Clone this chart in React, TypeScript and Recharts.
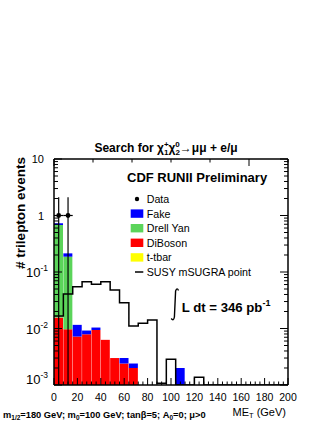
import React from "react";
import { ComposedChart, Bar, Line, Scatter, ErrorBar, XAxis, YAxis } from "recharts";

const W = 327;
const H = 423;
const LEFT = 54;
const RIGHT = 288;
const TOP = 159;
const BOTTOM = 385;
const Y_MIN = 0.001;
const Y_MAX = 10;
const FONT = "'Liberation Sans', Arial, Helvetica, sans-serif";

// MET bins, 8 GeV wide
const binEdges = [0, 8, 16, 24, 32, 40, 48, 56, 64, 72, 80, 88, 96, 104, 112, 120, 128, 136, 144, 152, 160, 168, 176, 184, 192, 200];

// stacked backgrounds, bottom to top
const diboson = [0.0156, 0.0097, 0.0072, 0.0079, 0.0094, 0.0063, 0.003, 0.0024, 0.002, 0, 0, 0, 0, 0, 0, 0, 0, 0, 0, 0, 0, 0, 0, 0, 0];
const drellYan = [0.663, 0.177, 0, 0, 0, 0, 0, 0, 0, 0, 0, 0, 0, 0, 0, 0, 0, 0, 0, 0, 0, 0, 0, 0, 0];
const fake = [0.05, 0.027, 0.0044, 0.0013, 0.001, 0, 0, 0.0006, 0.0004, 0, 0, 0, 0, 0.002, 0, 0, 0, 0, 0, 0, 0, 0, 0, 0, 0];
const ttbar = [0, 0, 0, 0, 0, 0, 0, 0, 0, 0, 0, 0, 0, 0, 0, 0, 0, 0, 0, 0, 0, 0, 0, 0, 0];

// signal, outline only
const susy = [0.0166, 0.041, 0.055, 0.067, 0.061, 0.067, 0.048, 0.0286, 0.0111, 0.0124, 0.0141, 0.00107, 0.00285, 0, 0, 0.00137, 0, 0, 0, 0, 0, 0, 0, 0, 0];

// observed events
const dataCounts = [1, 1, 0, 0, 0, 0, 0, 0, 0, 0, 0, 0, 0, 0, 0, 0, 0, 0, 0, 0, 0, 0, 0, 0, 0];
const dataErrLow = [1, 1];
const dataErrHigh = [1.1, 1.1];

const xMajor = [0, 20, 40, 60, 80, 100, 120, 140, 160, 180, 200];
const yMajor = [0.001, 0.01, 0.1, 1, 10];
const yLabels = [
  { base: "10", exp: "-3" },
  { base: "10", exp: "-2" },
  { base: "10", exp: "-1" },
  { base: "1", exp: "" },
  { base: "10", exp: "" },
];

const xTicks: number[] = [];
for (let v = 0; v <= 200; v += 4) xTicks.push(v);
const yTicks: number[] = [];
yMajor.forEach((d, i) => {
  yTicks.push(d);
  if (i < yMajor.length - 1) for (let m = 2; m <= 9; m++) yTicks.push(+(d * m).toPrecision(3));
});

const bins = binEdges.slice(0, -1).map((lo, i) => ({
  bin: lo,
  diboson: diboson[i],
  drellYan: drellYan[i],
  fake: fake[i],
  ttbar: ttbar[i],
}));

const susyLine = binEdges.map((lo, i) => ({
  x: lo,
  susy: Math.max(susy[Math.min(i, susy.length - 1)], Y_MIN),
}));

const dataPoints = dataCounts
  .map((n, i) => ({ n, i }))
  .filter((d) => d.n > 0)
  .map((d, k) => ({
    x: (binEdges[d.i] + binEdges[d.i + 1]) / 2,
    y: d.n,
    yErr: [Math.min(dataErrLow[k], d.n - Y_MIN), dataErrHigh[k]],
    xErr: (binEdges[d.i + 1] - binEdges[d.i]) / 2,
  }));

const XTickBottom = (props: any) => {
  const v = props.payload.value;
  const cx = props.payload.coordinate;
  const major = xMajor.includes(v);
  return (
    <g>
      <line x1={cx} x2={cx} y1={BOTTOM} y2={BOTTOM - (major ? 7 : 3.5)} stroke="#000" strokeWidth={1} />
      {major && (
        <text x={cx} y={401} textAnchor="middle" fontSize={10.5} fontFamily={FONT} fill="#000">
          {v}
        </text>
      )}
    </g>
  );
};

const XTickTop = (props: any) => {
  const v = props.payload.value;
  const cx = props.payload.coordinate;
  const major = xMajor.includes(v);
  return <line x1={cx} x2={cx} y1={TOP} y2={TOP + (major ? 7 : 3.5)} stroke="#000" strokeWidth={1} />;
};

const YTickLeft = (props: any) => {
  const v = props.payload.value;
  const cy = props.payload.coordinate;
  const idx = yMajor.indexOf(v);
  const major = idx >= 0;
  const lab = major ? yLabels[idx] : null;
  return (
    <g>
      <line x1={LEFT} x2={LEFT + (major ? 8 : 4)} y1={cy} y2={cy} stroke="#000" strokeWidth={1} />
      {lab && lab.exp === "" && (
        <text x={44} y={cy + 4} textAnchor="end" fontSize={11} fontFamily={FONT} fill="#000">
          {lab.base}
        </text>
      )}
      {lab && lab.exp !== "" && (
        <text x={48} y={cy + (idx === 0 ? -1 : 5)} textAnchor="end" fontSize={13} fontFamily={FONT} fill="#000">
          {lab.base}
          <tspan fontSize={8.5} dy={-6}>
            {lab.exp}
          </tspan>
        </text>
      )}
    </g>
  );
};

const YTickRight = (props: any) => {
  const v = props.payload.value;
  const cy = props.payload.coordinate;
  const major = yMajor.indexOf(v) >= 0;
  return <line x1={RIGHT} x2={RIGHT - (major ? 8 : 4)} y1={cy} y2={cy} stroke="#000" strokeWidth={1} />;
};

const DataDot = (props: any) => <circle cx={props.cx} cy={props.cy} r={2.4} fill="#000" />;

const legendRows = [
  { label: "Data", kind: "dot", color: "#000" },
  { label: "Fake", kind: "box", color: "#0000ff" },
  { label: "Drell Yan", kind: "box", color: "#5bd45a" },
  { label: "DiBoson", kind: "box", color: "#ff0000" },
  { label: "t-tbar", kind: "box", color: "#ffff00" },
  { label: "SUSY mSUGRA point", kind: "line", color: "#000" },
];

function Overlay() {
  return (
    <svg width={W} height={H} style={{ position: "absolute", left: 0, top: 0, pointerEvents: "none" }}>
      <text x={166} y={152} textAnchor="middle" fontSize={12} fontWeight="bold" fontFamily={FONT}>
        Search for χ
        <tspan fontSize={8} dy={-5}>+</tspan>
        <tspan fontSize={8} dx={-4.7} dy={8}>1</tspan>
        <tspan fontSize={12} dy={-3}>χ</tspan>
        <tspan fontSize={8} dy={-5}>0</tspan>
        <tspan fontSize={8} dx={-4.4} dy={8}>2</tspan>
        <tspan fontSize={12} dy={-3}>→μμ + e/μ</tspan>
      </text>
      <text x={127} y={181.5} fontSize={13} fontWeight="bold" fontFamily={FONT}>
        CDF RUNII Preliminary
      </text>
      {legendRows.map((r, i) => {
        const cy = 199 + i * 14.6;
        return (
          <g key={r.label}>
            {r.kind === "dot" && <circle cx={137} cy={cy} r={2.2} fill="#000" />}
            {r.kind === "box" && <rect x={130.7} y={cy - 4.2} width={12.6} height={8.4} fill={r.color} />}
            {r.kind === "line" && <line x1={135} x2={143.3} y1={cy} y2={cy} stroke="#000" strokeWidth={1.5} />}
            <text x={146.7} y={cy + 3.9} fontSize={10.7} fontFamily={FONT}>
              {r.label}
            </text>
          </g>
        );
      })}
      <path d="M 178.5 290.5 Q 177 287 175.6 291 L 174.4 317 Q 173.6 321.5 171.2 318.5" fill="none" stroke="#000" strokeWidth={1.4} />
      <text x={181.7} y={311.5} fontSize={13.2} fontWeight="bold" fontFamily={FONT}>
        L dt = 346 pb
        <tspan fontSize={9} dy={-6}>-1</tspan>
      </text>
      <text transform="translate(25,213) rotate(-90)" textAnchor="middle" fontSize={13.5} fontWeight="bold" fontFamily={FONT}>
        # trilepton events
      </text>
      <text x={286} y={415.5} textAnchor="end" fontSize={11} fontFamily={FONT}>
        ME
        <tspan fontSize={7.5} dy={2.5}>T</tspan>
        <tspan fontSize={11} dy={-2.5}> (GeV)</tspan>
      </text>
      <text x={3} y={418} fontSize={9.3} fontWeight="bold" fontFamily={FONT}>
        m<tspan fontSize={6.5} dy={2}>1/2</tspan>
        <tspan dy={-2}>=180 GeV; m</tspan>
        <tspan fontSize={6.5} dy={2}>0</tspan>
        <tspan dy={-2}>=100 GeV; tanβ=5; A</tspan>
        <tspan fontSize={6.5} dy={2}>0</tspan>
        <tspan dy={-2}>=0; μ&gt;0</tspan>
      </text>
    </svg>
  );
}

export default function App() {
  return (
    <div style={{ position: "absolute", left: 0, top: 0, width: W, height: H, background: "#fff" }}>
      <div style={{ position: "absolute", left: 0, top: 0, width: 300, height: H, overflow: "hidden" }}>
        <ComposedChart
          width={W}
          height={H}
          data={bins}
          margin={{ top: TOP - 1, right: W - RIGHT - 1, bottom: H - BOTTOM - 1, left: LEFT - 1 }}
          barCategoryGap={0}
          barGap={0}
        >
          <XAxis
            xAxisId="num"
            dataKey="x"
            type="number"
            domain={[0, 200]}
            allowDataOverflow
            ticks={xTicks}
            interval={0}
            height={1}
            tickLine={false}
            tick={<XTickBottom />}
            axisLine={{ stroke: "#000", strokeWidth: 1.5 }}
          />
          <XAxis xAxisId="bins" dataKey="bin" type="category" height={0} hide />
          <XAxis
            xAxisId="top"
            orientation="top"
            type="number"
            domain={[0, 200]}
            allowDataOverflow
            ticks={xTicks}
            interval={0}
            height={1}
            tickLine={false}
            tick={<XTickTop />}
            axisLine={{ stroke: "#000", strokeWidth: 1.5 }}
          />
          <YAxis
            yAxisId="left"
            dataKey="y"
            type="number"
            scale="log"
            domain={[Y_MIN, Y_MAX]}
            allowDataOverflow
            ticks={yTicks}
            interval={0}
            width={1}
            tickLine={false}
            tick={<YTickLeft />}
            axisLine={{ stroke: "#000", strokeWidth: 1.5 }}
          />
          <YAxis
            yAxisId="right"
            orientation="right"
            type="number"
            scale="log"
            domain={[Y_MIN, Y_MAX]}
            allowDataOverflow
            ticks={yTicks}
            interval={0}
            width={1}
            tickLine={false}
            tick={<YTickRight />}
            axisLine={{ stroke: "#000", strokeWidth: 1.5 }}
          />
          <Bar xAxisId="bins" yAxisId="left" dataKey="diboson" stackId="bg" fill="#ff0000" isAnimationActive={false} />
          <Bar xAxisId="bins" yAxisId="left" dataKey="drellYan" stackId="bg" fill="#5bd45a" isAnimationActive={false} />
          <Bar xAxisId="bins" yAxisId="left" dataKey="fake" stackId="bg" fill="#0000ff" isAnimationActive={false} />
          <Bar xAxisId="bins" yAxisId="left" dataKey="ttbar" stackId="bg" fill="#ffff00" isAnimationActive={false} />
          <Line
            xAxisId="num"
            yAxisId="left"
            data={susyLine}
            dataKey="susy"
            type="stepAfter"
            stroke="#000"
            strokeWidth={1.5}
            dot={false}
            isAnimationActive={false}
          />
          <Scatter xAxisId="num" yAxisId="left" data={dataPoints} dataKey="y" shape={<DataDot />} isAnimationActive={false}>
            <ErrorBar dataKey="yErr" direction="y" width={0} stroke="#000" strokeWidth={1.2} isAnimationActive={false} />
            <ErrorBar dataKey="xErr" direction="x" width={0} stroke="#000" strokeWidth={1.2} isAnimationActive={false} />
          </Scatter>
        </ComposedChart>
      </div>
      <Overlay />
    </div>
  );
}
